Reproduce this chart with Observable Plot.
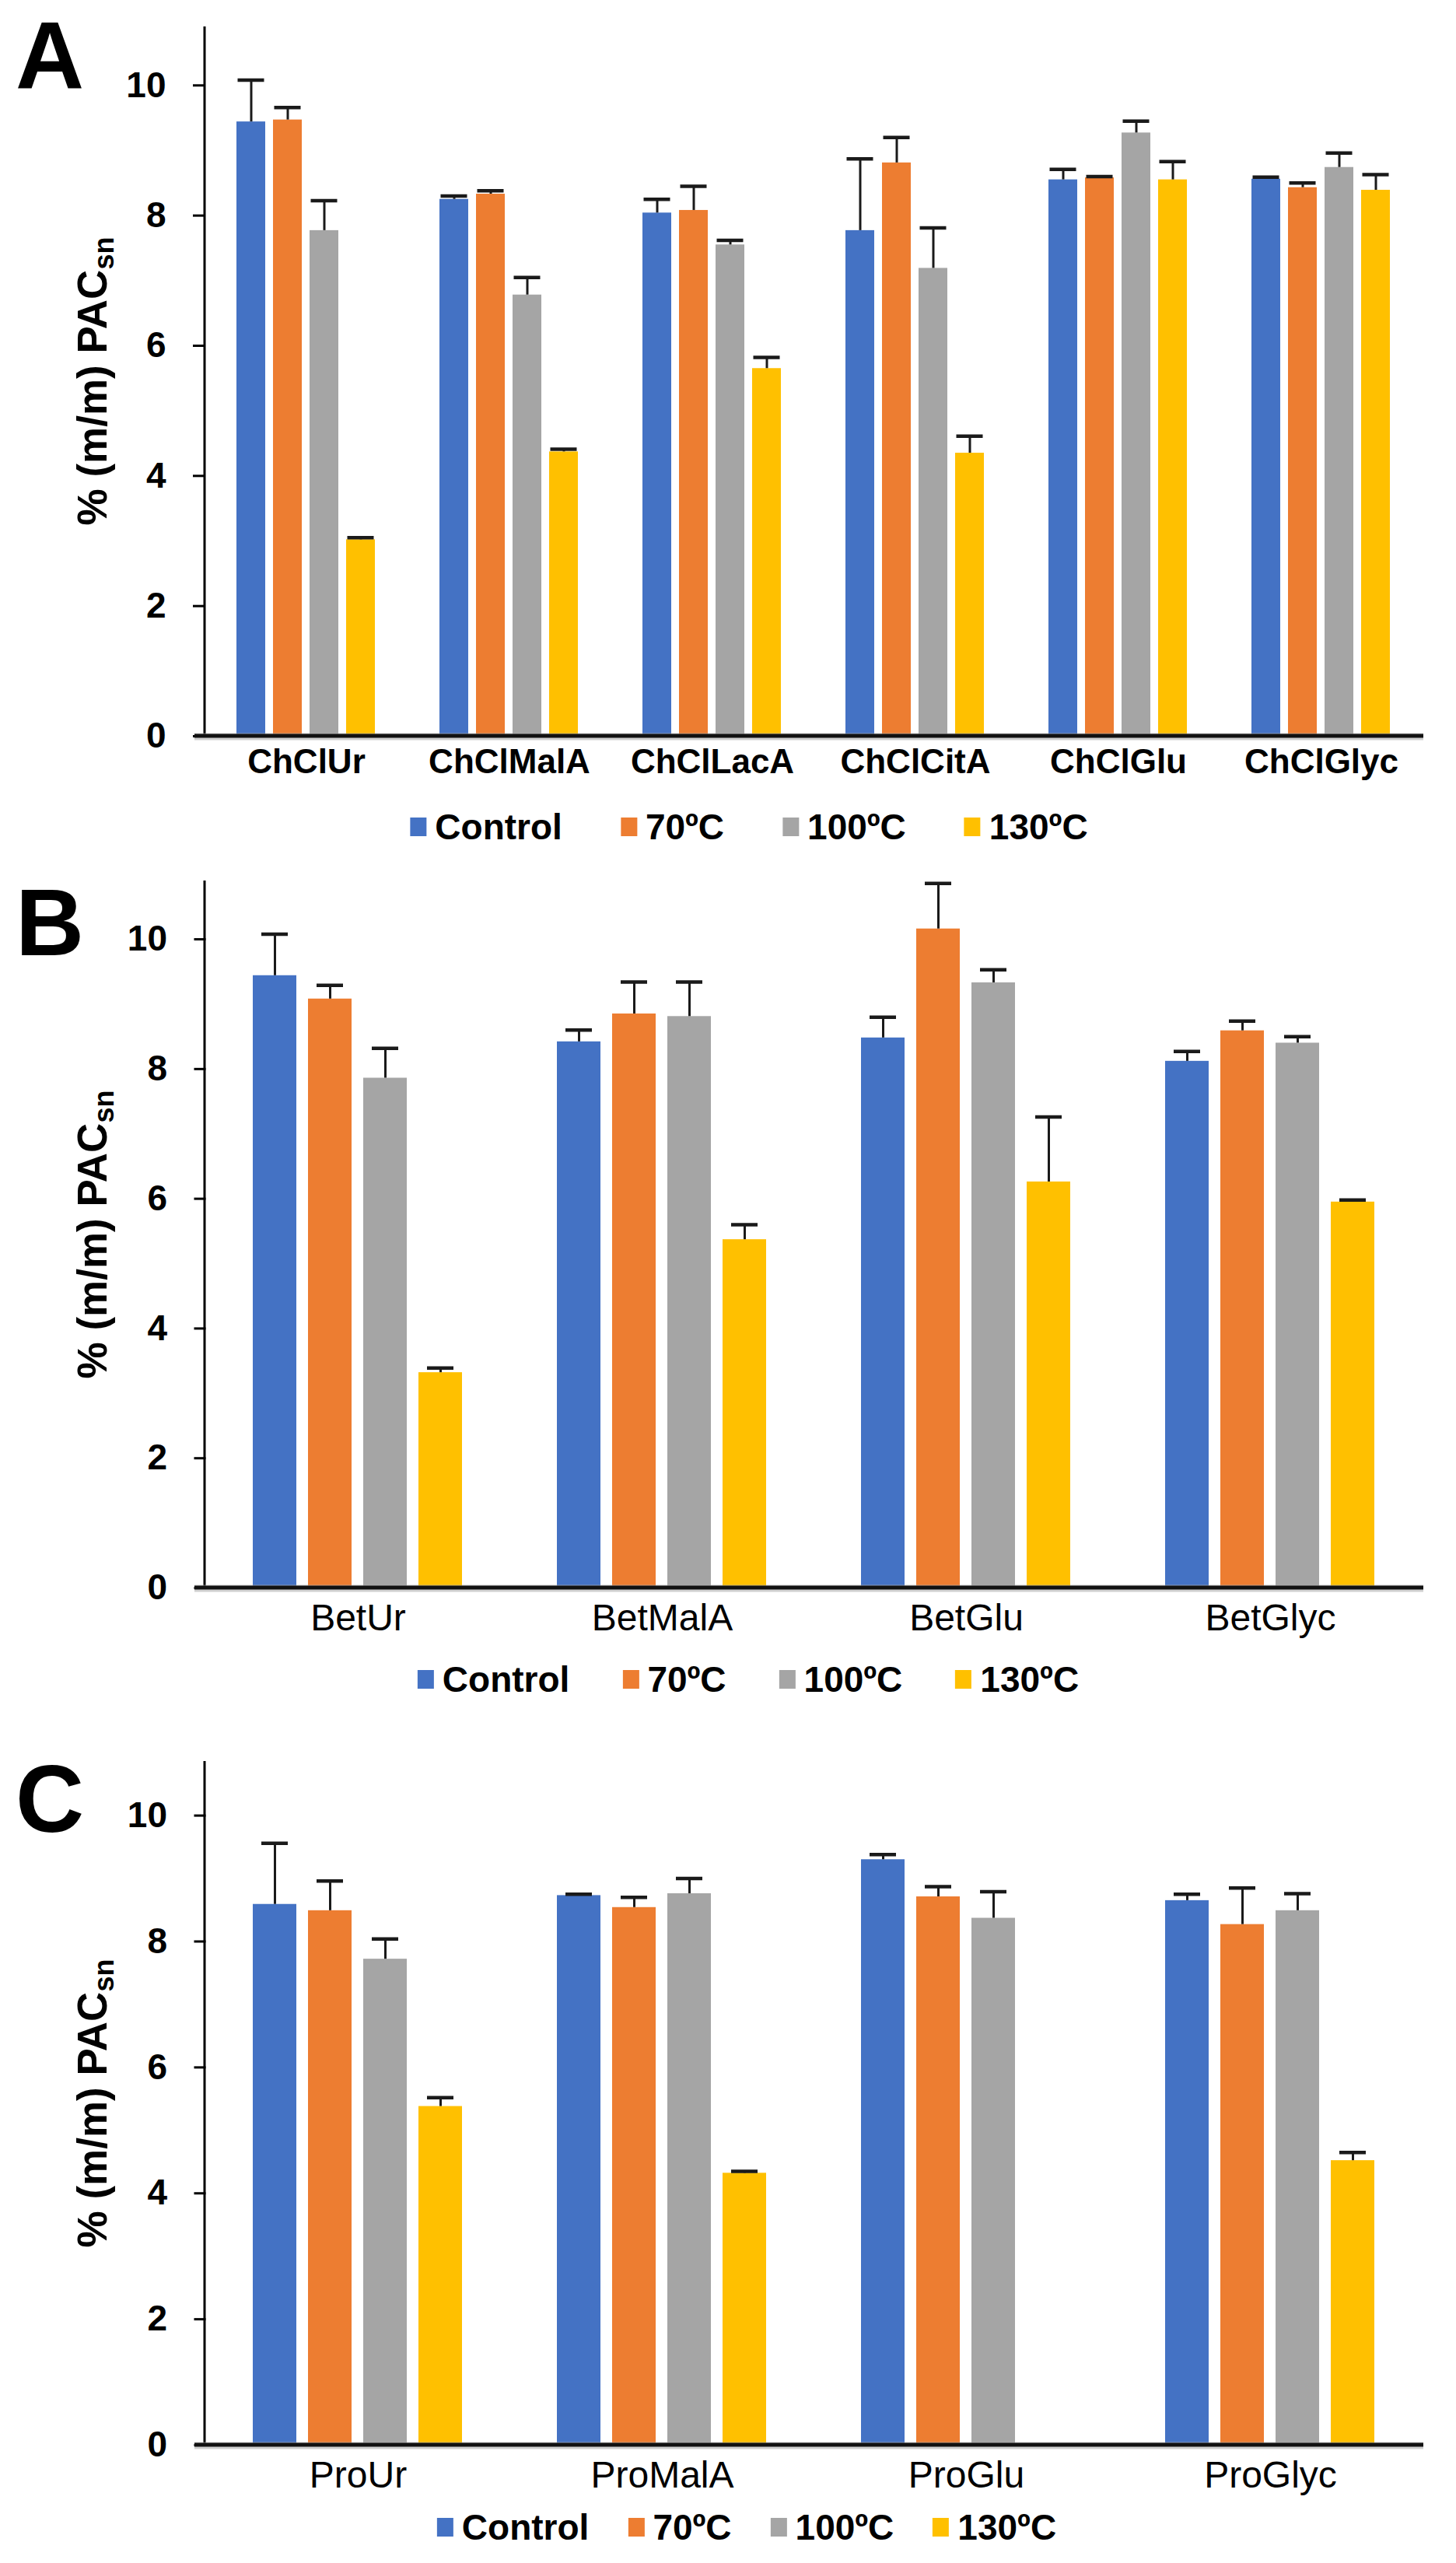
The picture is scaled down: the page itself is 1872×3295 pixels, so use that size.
<!DOCTYPE html>
<html>
<head>
<meta charset="utf-8">
<script src="https://cdn.jsdelivr.net/npm/d3@7"></script>
<script src="https://cdn.jsdelivr.net/npm/@observablehq/plot@0.6"></script>
<style>
  html, body { margin: 0; padding: 0; background: #fff; }
  body { width: 1872px; height: 3295px; position: relative; overflow: hidden;
         font-family: "Liberation Sans", Arial, sans-serif; }
  .panel { position: absolute; left: 0; }
  .letter { position: absolute; font-weight: bold; font-size: 122px; line-height: 1; color: #000; }
  .ytitle { position: absolute; font-weight: bold; font-size: 53px; color: #000; white-space: nowrap;
            transform: translate(-50%, -50%) rotate(-90deg); line-height: 1; }
  .ytitle sub { font-size: 36px; vertical-align: -0.25em; }
  .legend { position: absolute; display: flex; align-items: center; transform: translate(-50%, -50%);
            font-weight: bold; font-size: 46px; color: #000; white-space: nowrap; line-height: 1; }
  .legend .item { display: flex; align-items: center; }
  .legend .sw { width: 21px; height: 24px; margin-right: 11px; }
</style>
</head>
<body>
<script>
const series = ["Control", "70ºC", "100ºC", "130ºC"];
const colors = ["#4472C4", "#ED7D31", "#A5A5A5", "#FFC000"];
const yTicks = [0, 2, 4, 6, 8, 10];
const yTitle = "% (m/m) PAC";
const yTitleSub = "sn";

// Panel A (rows follow series order)
const catsA = ["ChClUr", "ChClMalA", "ChClLacA", "ChClCitA", "ChClGlu", "ChClGlyc"];
const meanA = [
  [9.44, 8.25, 8.04, 7.77, 8.55, 8.56],
  [9.47, 8.33, 8.08, 8.81, 8.58, 8.43],
  [7.77, 6.78, 7.55, 7.19, 9.27, 8.74],
  [3.02, 4.37, 5.65, 4.35, 8.55, 8.39]
];
const errA = [
  [0.64, 0.05, 0.21, 1.10, 0.16, 0.03],
  [0.19, 0.05, 0.37, 0.39, 0.02, 0.07],
  [0.46, 0.27, 0.07, 0.62, 0.18, 0.22],
  [0.03, 0.04, 0.17, 0.26, 0.28, 0.24]
];

// Panel B
const catsB = ["BetUr", "BetMalA", "BetGlu", "BetGlyc"];
const meanB = [
  [9.44, 8.42, 8.48, 8.12],
  [9.08, 8.85, 10.16, 8.59],
  [7.86, 8.81, 9.33, 8.40],
  [3.32, 5.37, 6.26, 5.95]
];
const errB = [
  [0.64, 0.18, 0.32, 0.15],
  [0.21, 0.49, 0.70, 0.15],
  [0.46, 0.53, 0.20, 0.10],
  [0.07, 0.23, 1.00, 0.03]
];

// Panel C
const catsC = ["ProUr", "ProMalA", "ProGlu", "ProGlyc"];
const meanC = [
  [8.59, 8.73, 9.30, 8.65],
  [8.49, 8.54, 8.71, 8.27],
  [7.72, 8.76, 8.37, 8.49],
  [5.38, 4.32, null, 4.52]
];
const errC = [
  [0.97, 0.02, 0.08, 0.10],
  [0.47, 0.16, 0.16, 0.58],
  [0.32, 0.24, 0.42, 0.27],
  [0.14, 0.03, null, 0.13]
];

function table(cats, mean, err) {
  const rows = [];
  series.forEach((s, i) => cats.forEach((c, j) => {
    if (mean[i][j] != null) rows.push({cat: c, series: s, value: mean[i][j], top: mean[i][j] + err[i][j]});
  }));
  return rows;
}

const W = 1872, ML = 263, MR = 42;

const panels = [
  {letter: "A", cats: catsA, mean: meanA, err: errA, top: 0, mt: 34, plotH: 912, ymax: 10.9, mb: 70,
   fxPad: 0.314, capInset: 1.5, xBold: true, xSize: 44, xPad: 16, legendDy: 117, legendX: 963, legendGap: 75,
   letterTop: 11},
  {letter: "B", cats: catsB, mean: meanB, err: errB, top: 1098, mt: 34, plotH: 909, ymax: 10.9, mb: 76,
   fxPad: 0.309, capInset: 11, xBold: false, xSize: 48, xPad: 20, legendDy: 118, legendX: 962, legendGap: 68,
   letterTop: 1125},
  {letter: "C", cats: catsC, mean: meanC, err: errC, top: 2230, mt: 34, plotH: 879, ymax: 10.86, mb: 76,
   fxPad: 0.309, capInset: 11, xBold: false, xSize: 48, xPad: 20, legendDy: 106, legendX: 960, legendGap: 50,
   letterTop: 2252}
];

for (const p of panels) {
  const data = table(p.cats, p.mean, p.err);
  const height = p.mt + p.plotH + p.mb;
  // offset from frame edge to first facet (outer padding of fx band scale)
  const step = (W - ML - MR) / p.cats.length;
  const outer = (p.fxPad / 2) * step;
  const chart = Plot.plot({
    width: W,
    height,
    marginLeft: ML,
    marginRight: MR,
    marginTop: p.mt,
    marginBottom: p.mb,
    style: {fontFamily: "'Liberation Sans', Arial, sans-serif", fontSize: "46px", fontWeight: "bold",
            color: "#000", background: "transparent", overflow: "visible"},
    fx: {domain: p.cats, paddingInner: p.fxPad, paddingOuter: p.fxPad / 2, label: null},
    x: {domain: series, paddingInner: 0.21, paddingOuter: 0, axis: null},
    y: {domain: [0, p.ymax], label: null},
    color: {domain: series, range: colors},
    marks: [
      Plot.barY(data, {fx: "cat", x: "series", y: "value", fill: "series"}),
      Plot.ruleX(data, {fx: "cat", x: "series", y1: "value", y2: "top", stroke: "#1a1a1a", strokeWidth: 3}),
      Plot.tickY(data, {fx: "cat", x: "series", y: "top", stroke: "#1a1a1a", strokeWidth: 4.5,
                        insetLeft: p.capInset, insetRight: p.capInset}),
      Plot.axisY({ticks: yTicks, tickSize: 15, tickPadding: 35, strokeWidth: 3, label: null,
                  fontSize: 46, fontWeight: "bold", dx: -outer}),
      Plot.axisFx({anchor: "bottom", tickSize: 0, tickPadding: p.xPad, label: null,
                   fontSize: p.xSize, fontWeight: p.xBold ? "bold" : "normal"})
    ]
  });
  // axis lines, positioned from the plot's own scales
  const ys = chart.scale("y");
  const fxs = chart.scale("fx");
  const svg = d3.select(chart.tagName.toLowerCase() === "svg" ? chart : chart.querySelector("svg"));
  const y0 = ys.apply(0);
  const [yb, yt] = ys.range;
  const [x0, x1] = fxs.range;
  svg.append("line").attr("x1", x0).attr("x2", x0).attr("y1", yt).attr("y2", yb)
     .attr("stroke", "#000").attr("stroke-width", 3);
  svg.append("line").attr("x1", x0 - 13).attr("x2", x1).attr("y1", y0 + 1).attr("y2", y0 + 1)
     .attr("stroke", "#b0b0b0").attr("stroke-width", 9).attr("opacity", 0.6);
  svg.append("line").attr("x1", x0 - 13).attr("x2", x1).attr("y1", y0).attr("y2", y0)
     .attr("stroke", "#111").attr("stroke-width", 5);

  const wrap = document.createElement("div");
  wrap.className = "panel";
  wrap.style.top = p.top + "px";
  wrap.appendChild(chart);
  document.body.appendChild(wrap);

  // panel letter
  const L = document.createElement("div");
  L.className = "letter";
  L.textContent = p.letter;
  L.style.left = "20px";
  L.style.top = p.letterTop + "px";
  document.body.appendChild(L);

  // y title
  const T = document.createElement("div");
  T.className = "ytitle";
  T.innerHTML = yTitle + "<sub>" + yTitleSub + "</sub>";
  T.style.left = "122px";
  T.style.top = (p.top + p.mt + p.plotH / 2) + "px";
  document.body.appendChild(T);

  // legend
  const G = document.createElement("div");
  G.className = "legend";
  G.style.left = p.legendX + "px";
  G.style.top = (p.top + p.mt + p.plotH + p.legendDy) + "px";
  series.forEach((s, i) => {
    const it = document.createElement("div");
    it.className = "item";
    if (i > 0) it.style.marginLeft = p.legendGap + "px";
    const sw = document.createElement("span");
    sw.className = "sw";
    sw.style.background = colors[i];
    it.appendChild(sw);
    it.appendChild(document.createTextNode(s));
    G.appendChild(it);
  });
  document.body.appendChild(G);
}
</script>
</body>
</html>
